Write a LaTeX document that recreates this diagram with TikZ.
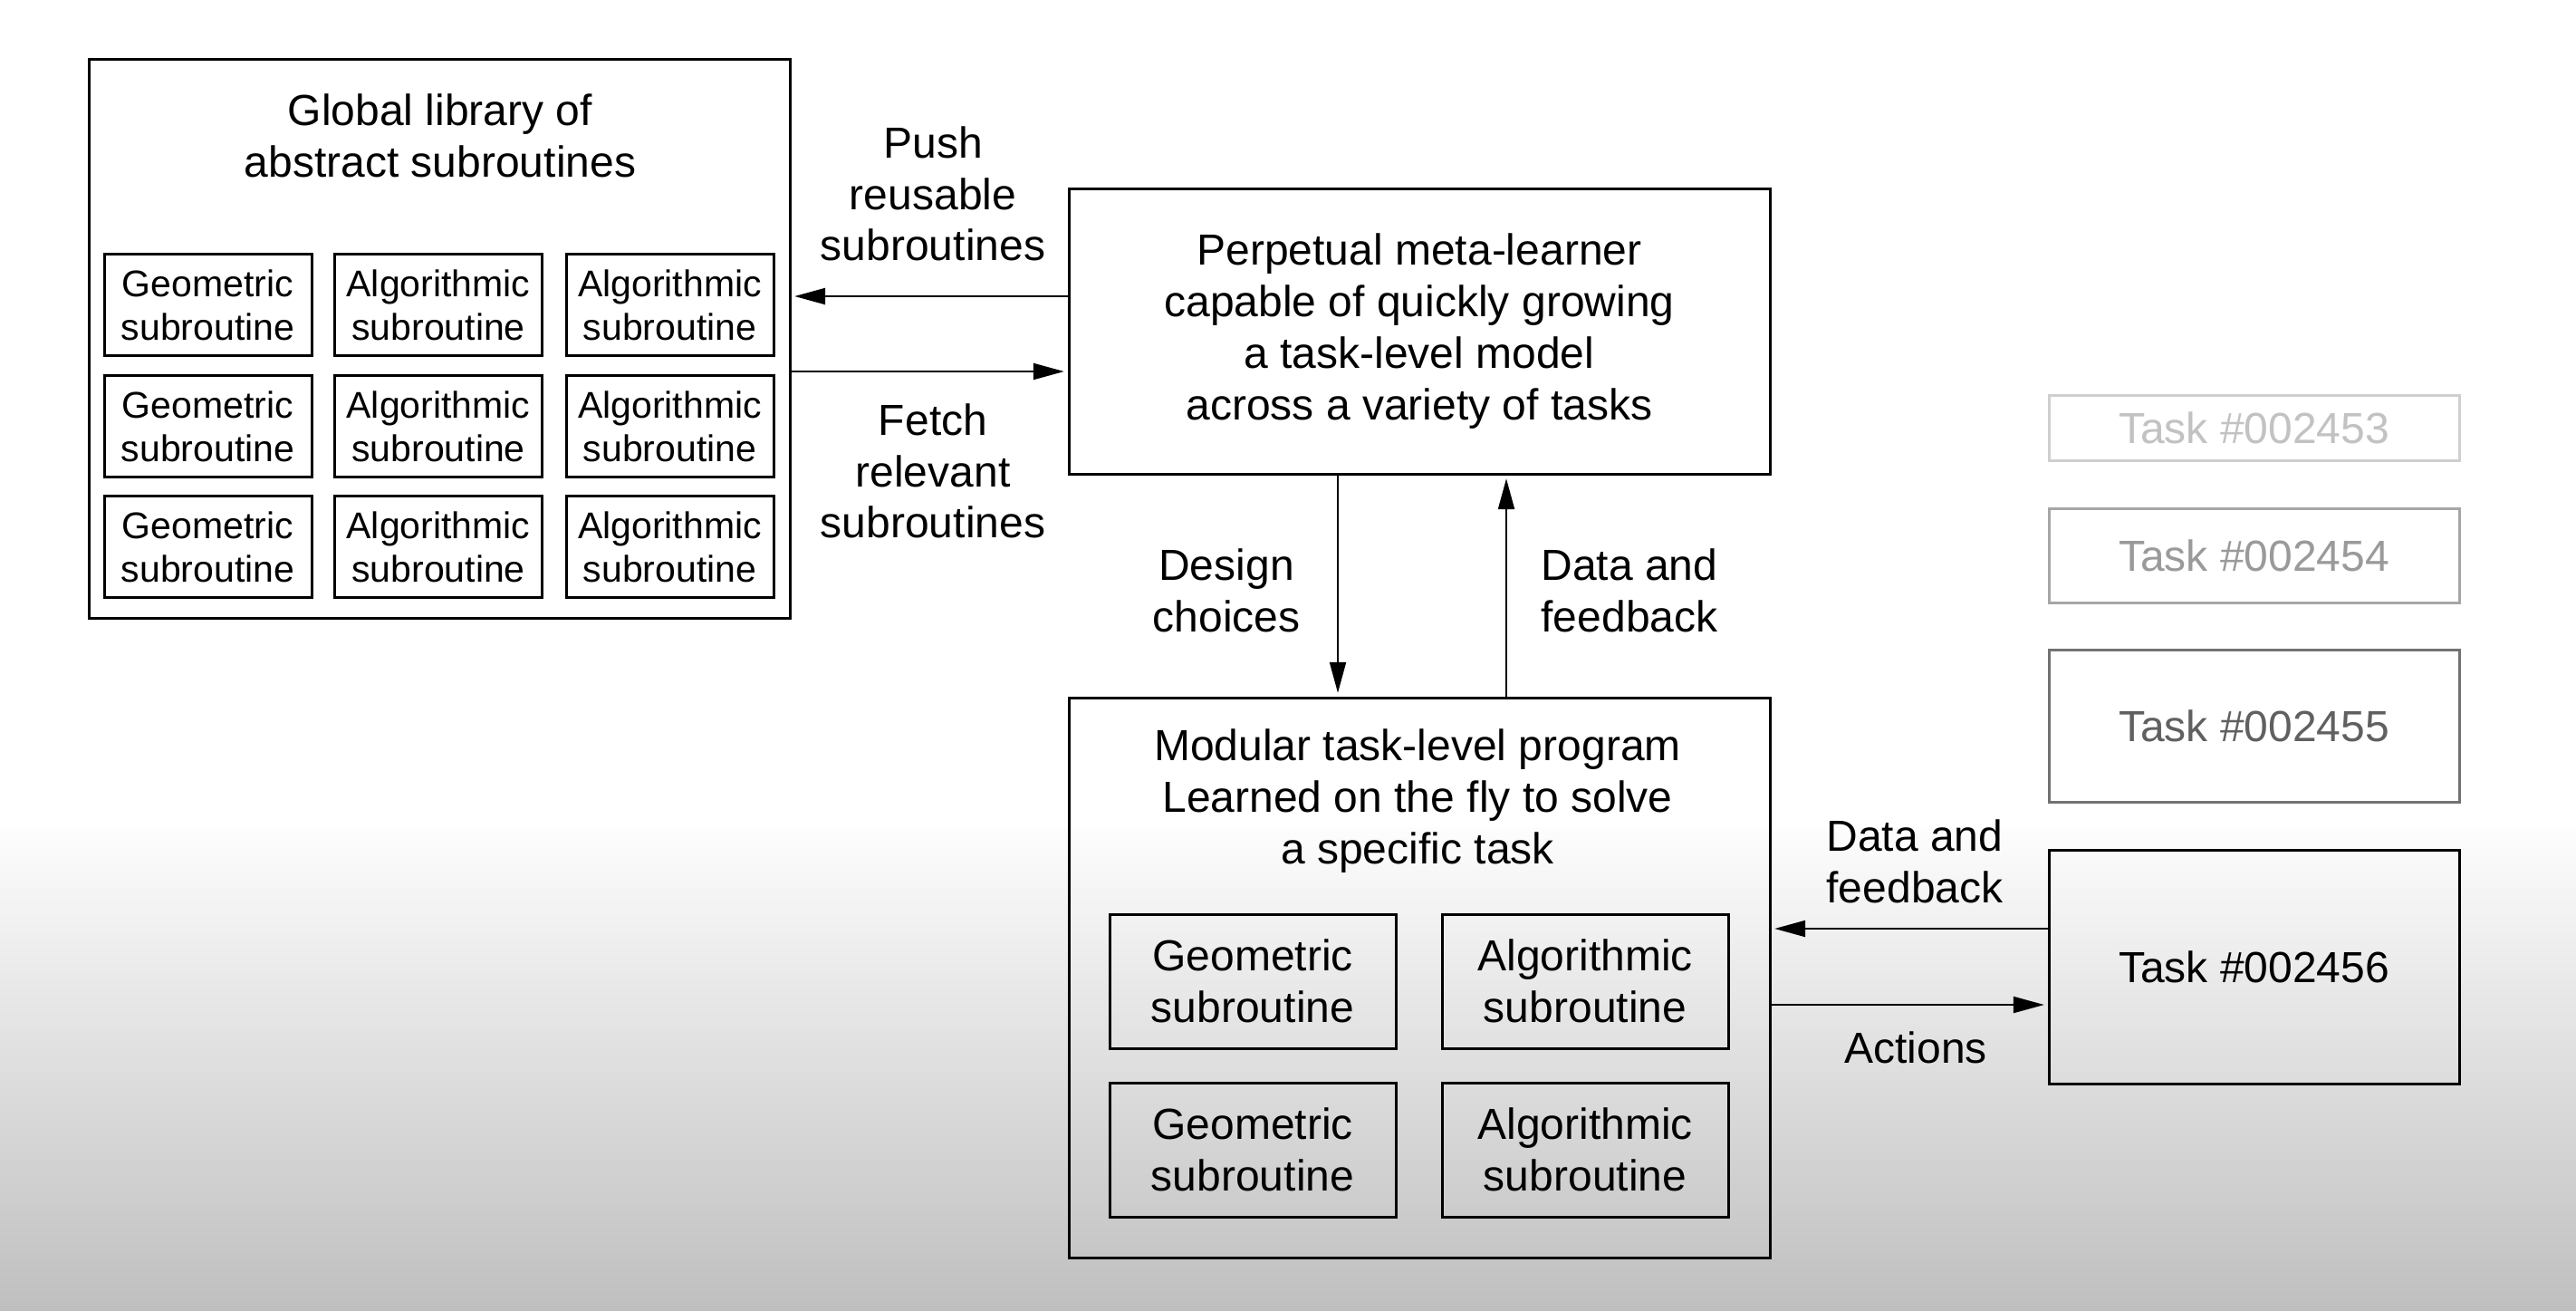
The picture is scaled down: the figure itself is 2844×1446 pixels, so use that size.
\documentclass[tikz,border=0pt]{standalone}
\usepackage{fontspec}
\setmainfont{Liberation Sans}
\usetikzlibrary{arrows.meta}
\definecolor{bgbot}{HTML}{BFBFBF}
\definecolor{bgtop}{HTML}{FDFDFD}
\definecolor{tA}{HTML}{CFCFCF}
\definecolor{tAt}{HTML}{C2C2C2}
\definecolor{tB}{HTML}{A6A6A6}
\definecolor{tBt}{HTML}{9A9A9A}
\definecolor{tC}{HTML}{727272}
\definecolor{tCt}{HTML}{606060}
\begin{document}
\begin{tikzpicture}[x=0.25pt,y=-0.25pt,
  box/.style={draw=black, line width=0.75pt, inner sep=0pt, outer sep=0pt, rectangle, align=center, font=\fontsize{12}{14.2}\selectfont},
  txt/.style={inner sep=0pt, align=center, font=\fontsize{12}{14.2}\selectfont},
  sbox/.style={box, minimum width=57.25pt, minimum height=28pt, font=\fontsize{10.25}{12.05}\selectfont},
  ibox/.style={box, minimum width=79pt, minimum height=37pt},
  taskbox/.style={box, minimum width=113.25pt},
  arr/.style={-{Triangle[length=8.5pt,width=4.5pt]}, line width=0.55pt, shorten >=1.3pt}
]
\useasboundingbox (0,0) rectangle (2844,1446);
\fill[white] (0,0) rectangle (2844,914);
\shade[top color=bgtop, bottom color=bgbot] (0,913) rectangle (2844,1446);

% Global library
\node[box, minimum width=193.5pt, minimum height=154.25pt] (lib) at (485,373.5) {};
\node[txt] (libtitle) at (486,150) {Global library of\\abstract subroutines};
\node[sbox] (l11) at (229.5,336.5) {Geometric\\subroutine};
\node[sbox] (l12) at (484,336.5) {Algorithmic\\subroutine};
\node[sbox] (l13) at (739.5,336.5) {Algorithmic\\subroutine};
\node[sbox] (l21) at (229.5,470.5) {Geometric\\subroutine};
\node[sbox] (l22) at (484,470.5) {Algorithmic\\subroutine};
\node[sbox] (l23) at (739.5,470.5) {Algorithmic\\subroutine};
\node[sbox] (l31) at (229.5,603.5) {Geometric\\subroutine};
\node[sbox] (l32) at (484,603.5) {Algorithmic\\subroutine};
\node[sbox] (l33) at (739.5,603.5) {Algorithmic\\subroutine};

% Meta-learner
\node[box, minimum width=193.5pt, minimum height=78.75pt] (meta) at (1567,365.5)
  {Perpetual meta-learner\\capable of quickly growing\\a task-level model\\across a variety of tasks};

% Modular program
\node[box, minimum width=193.5pt, minimum height=154.5pt] (mod) at (1567,1079) {};
\node[txt] (modtitle) at (1565,884) {Modular task-level program\\Learned on the fly to solve\\a specific task};
\node[ibox] (m11) at (1383,1083) {Geometric\\subroutine};
\node[ibox] (m12) at (1750,1083) {Algorithmic\\subroutine};
\node[ibox] (m21) at (1383,1269) {Geometric\\subroutine};
\node[ibox] (m22) at (1750,1269) {Algorithmic\\subroutine};

% Tasks
\node[taskbox, draw=tA, text=tAt, minimum height=18pt] (t53) at (2488.5,472) {Task \#002453};
\node[taskbox, draw=tB, text=tBt, minimum height=26pt] (t54) at (2488.5,613) {Task \#002454};
\node[taskbox, draw=tC, text=tCt, minimum height=42pt] (t55) at (2488.5,801) {Task \#002455};
\node[taskbox, minimum height=64.5pt] (t56) at (2488.5,1067) {Task \#002456};

% arrow levels
\coordinate (ypush) at (0,327);
\coordinate (yfetch) at (0,410);
\coordinate (xdesign) at (1477,0);
\coordinate (xdata) at (1663,0);
\coordinate (ydf) at (0,1025);
\coordinate (yact) at (0,1109);

\draw[arr] (meta.west |- ypush) -- (lib.east |- ypush);
\draw[arr] (lib.east |- yfetch) -- (meta.west |- yfetch);
\draw[arr] (meta.south -| xdesign) -- (mod.north -| xdesign);
\draw[arr] (mod.north -| xdata) -- (meta.south -| xdata);
\draw[arr] (t56.west |- ydf) -- (mod.east |- ydf);
\draw[arr] (mod.east |- yact) -- (t56.west |- yact);

% labels
\node[txt] (lpush) at (1030,214) {Push\\reusable\\subroutines};
\node[txt] (lfetch) at (1030,520) {Fetch\\relevant\\subroutines};
\node[txt] (ldesign) at (1354,652) {Design\\choices};
\node[txt] (ldata) at (1799,652) {Data and\\feedback};
\node[txt] (ldata2) at (2114,951) {Data and\\feedback};
\node[txt] (lact) at (2115,1156) {Actions};
\end{tikzpicture}
\end{document}
